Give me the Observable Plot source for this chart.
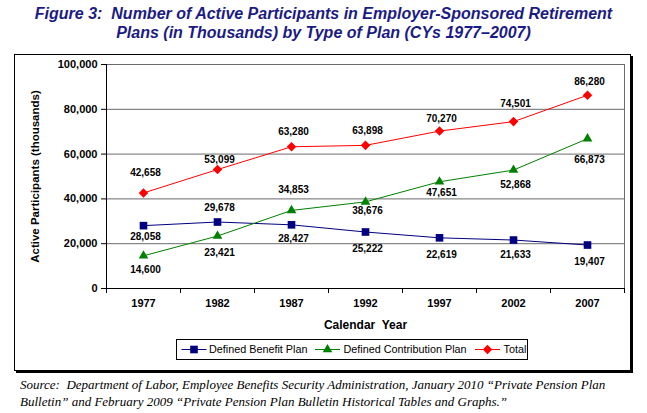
<!DOCTYPE html>
<html><head><meta charset="utf-8">
<script src="https://cdn.jsdelivr.net/npm/d3@7"></script>
<script src="https://cdn.jsdelivr.net/npm/@observablehq/plot@0.6"></script>
<style>
body{margin:0;background:#fff;font-family:"Liberation Sans",Arial,sans-serif;}
#wrap{position:relative;width:647px;height:413px;overflow:hidden;background:#fff;}
#title{position:absolute;left:0;top:4px;width:647px;text-align:center;color:#1b1b84;font-weight:bold;font-style:italic;font-size:16px;line-height:19px;}
#frame{position:absolute;left:14px;top:54px;width:615px;height:315px;border:1px solid #000;box-shadow:2px 2px 0 #000;}
#chart{position:absolute;left:0;top:1px;}
#legend{position:absolute;left:161px;top:284px;}
#source{position:absolute;left:20px;top:376px;font-family:"Liberation Serif","Times New Roman",serif;font-style:italic;font-size:13px;line-height:17px;color:#000;white-space:nowrap;}
</style>
</head><body>
<div id="wrap">
  <div id="title">Figure 3:&nbsp; Number of Active Participants in Employer-Sponsored Retirement<br>Plans (in Thousands) by Type of Plan (CYs 1977–2007)</div>
  <div id="frame"><div id="chart"></div><div id="legend"></div></div>
  <div id="source">Source:&nbsp; Department of Labor, Employee Benefits Security Administration, January 2010 “Private Pension Plan<br>Bulletin” and February 2009 “Private Pension Plan Bulletin Historical Tables and Graphs.”</div>
</div>
<script>
// ---- data ----
const years = [1977, 1982, 1987, 1992, 1997, 2002, 2007];
const definedBenefit = [28058, 29678, 28427, 25222, 22619, 21633, 19407];
const definedContribution = [14600, 23421, 34853, 38676, 47651, 52868, 66873];
const total = [42658, 53099, 63280, 63898, 70270, 74501, 86280];
const seriesNames = ["Defined Benefit Plan", "Defined Contribution Plan", "Total"];
const yTicks = [0, 20000, 40000, 60000, 80000, 100000];
const xBoundaries = [1974.5, 1979.5, 1984.5, 1989.5, 1994.5, 1999.5, 2004.5, 2009.5];
const yLabel = "Active Participants (thousands)";
const xLabel = "Calendar  Year";

// ---- style config (label offsets in px, colors, symbols) ----
const dbLabelDy = [11, -14, 14, 17, 17, 15, 17];
const dcLabelDy = [14, 17, -21, 9, 11, 15, 21];
const totalLabelDy = [-20, -10, -15, -15, -12, -18, -13];
const colors = ["#000080", "#008000", "#ff0000"];
const symbols = ["square", "triangle", "diamond2"];
const radii = [4.3, 3.6, 4.3];

const seriesValues = [definedBenefit, definedContribution, total];
const seriesDy = [dbLabelDy, dcLabelDy, totalLabelDy];
const rows = [];
seriesNames.forEach((s, i) => years.forEach((yr, j) =>
  rows.push({series: s, year: yr, value: seriesValues[i][j], dy: seriesDy[i][j]})));

const fmt = d3.format(",");
const font = "'Liberation Sans', Arial, sans-serif";

const marks = [
  Plot.gridY(yTicks.filter(d => d > 0), {stroke: "#6a6a6a", strokeOpacity: 1}),
  Plot.ruleX([xBoundaries[xBoundaries.length - 1]], {stroke: "#6a6a6a"}),
  Plot.ruleX([xBoundaries[0]], {stroke: "#000"}),
  Plot.ruleY([0], {stroke: "#000"}),
  Plot.axisY({ticks: yTicks, tickSize: 5, tickPadding: 4, tickFormat: fmt, fontWeight: "bold", fontSize: 11, label: null}),
  Plot.axisX({ticks: xBoundaries, tickSize: 5, tickFormat: () => "", label: null}),
  Plot.axisX({ticks: years, tickSize: 0, tickPadding: 11, tickFormat: d => String(d), fontWeight: "bold", fontSize: 11, label: null}),
  Plot.line(rows, {x: "year", y: "value", z: "series", stroke: "series", strokeWidth: 1}),
  ...seriesNames.map((s, i) => Plot.dot(rows.filter(r => r.series === s),
      {x: "year", y: "value", symbol: () => symbols[i], fill: colors[i], stroke: "none", r: radii[i]})),
  ...rows.map(r => Plot.text([r], {x: "year", y: "value", text: d => fmt(d.value), dy: r.dy, dx: 2,
      fontWeight: "bold", fontSize: 10, fill: "#000"})),
  Plot.text([yLabel], {frameAnchor: "left", textAnchor: "middle", lineAnchor: "middle", dx: -71, rotate: -90,
      fontWeight: "bold", fontSize: 11.5, fill: "#000"}),
  Plot.text([xLabel], {frameAnchor: "bottom", textAnchor: "middle", lineAnchor: "middle", dy: 37,
      fontWeight: "bold", fontSize: 12, fill: "#000"})
];

const chart = Plot.plot({
  width: 615, height: 280,
  marginLeft: 91, marginRight: 6, marginTop: 8, marginBottom: 48,
  x: {type: "linear", domain: [xBoundaries[0], xBoundaries[xBoundaries.length - 1]]},
  y: {domain: [0, 100000]},
  color: {domain: seriesNames, range: colors},
  symbol: {domain: seriesNames, range: symbols},
  style: {fontFamily: font, fontSize: "10px", color: "#000", background: "transparent", overflow: "visible"},
  marks
});
document.getElementById("chart").appendChild(chart);

// ---- legend ----
const lg = d3.select("#legend").append("svg").attr("width", 354).attr("height", 21)
  .style("overflow", "visible");
lg.append("rect").attr("x", 0.5).attr("y", 0.5).attr("width", 351).attr("height", 20)
  .attr("fill", "#fff").attr("stroke", "#000");
const legendItems = [
  {lx: 5.5, sym: d3.symbolSquare, size: 58, tx: 33},
  {lx: 139, sym: d3.symbolTriangle, size: 40, tx: 167.5},
  {lx: 299, sym: d3.symbolDiamond2, size: 58, tx: 327.5}
];
legendItems.forEach((it, i) => {
  const g = lg.append("g");
  g.append("line").attr("x1", it.lx).attr("x2", it.lx + 25).attr("y1", 10.5).attr("y2", 10.5)
    .attr("stroke", colors[i]).attr("stroke-width", 1);
  g.append("path").attr("d", d3.symbol(it.sym, it.size)()).attr("transform", `translate(${it.lx + 12.5},10.5)`)
    .attr("fill", colors[i]);
  g.append("text").attr("x", it.tx).attr("y", 10.5).attr("dy", "0.35em").attr("font-size", 10.8)
    .attr("font-family", font).text(seriesNames[i]);
});
</script>
</body></html>
